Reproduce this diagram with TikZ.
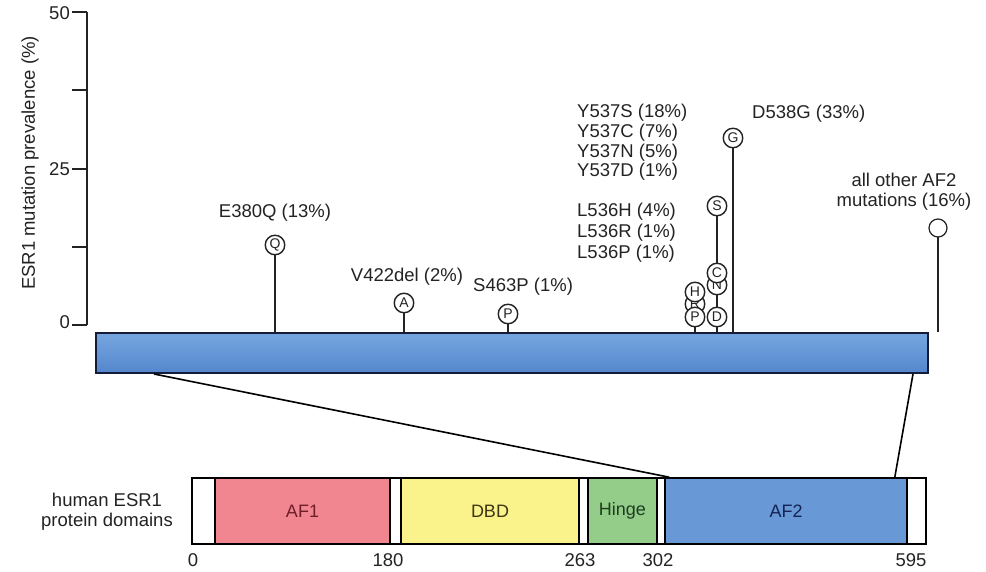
\documentclass[tikz,border=0pt]{standalone}
\usepackage{fontspec}
\setmainfont{Liberation Sans}
\usetikzlibrary{calc}
\pgfdeclarelayer{bg}
\pgfsetlayers{bg,main}
\definecolor{ink}{RGB}{35,35,35}
\definecolor{bartop}{RGB}{118,166,224}
\definecolor{barbot}{RGB}{84,134,204}
\definecolor{barline}{RGB}{20,28,55}
\definecolor{af1c}{RGB}{242,134,144}
\definecolor{dbdc}{RGB}{250,243,140}
\definecolor{hingec}{RGB}{148,205,138}
\definecolor{af2c}{RGB}{104,152,214}
\begin{document}
\begin{tikzpicture}[x=1pt,y=-1pt,
  lbl/.style={font=\fontsize{18.5}{20}\selectfont, inner sep=0pt, text=ink},
  mut/.style={circle, draw=ink, fill=white, line width=1.4pt, minimum size=19.5pt, inner sep=0pt, font=\fontsize{14}{14}\selectfont, text=ink},
  openmut/.style={circle, draw=ink, fill=white, line width=1.2pt, minimum size=18pt, inner sep=0pt},
  stem/.style={draw=ink, line width=1.3pt},
  dom/.style={draw=black, line width=1.6pt, minimum height=66pt, inner sep=0pt, font=\fontsize{18}{20}\selectfont},
  zoomline/.style={draw=black, line width=1.6pt},
  axisline/.style={draw=ink, line width=2.4pt},
  tickline/.style={draw=ink, line width=1.5pt}
]
\useasboundingbox (0,0) rectangle (986,571);
\begin{pgfonlayer}{bg}
\fill[white] (0,0) rectangle (986,571);
\end{pgfonlayer}

% y axis
\coordinate (ytop) at (87,12);
\coordinate (ybot) at (87,325);
\draw[axisline] (ytop) -- (ybot);
\coordinate (t50) at (72,12);
\coordinate (t375) at (72,90);
\coordinate (t25) at (72,169);
\coordinate (t125) at (72,247);
\coordinate (t0) at (72,325);
\draw[tickline] (t50) -- (ytop);
\draw[tickline] (t375) -- (t375 -| ytop);
\draw[tickline] (t25) -- (t25 -| ytop);
\draw[tickline] (t125) -- (t125 -| ytop);
\draw[tickline] (t0) -- (ybot);
\node[lbl, anchor=base east] (l50) at (70,19) {50};
\node[lbl, anchor=base east] (l25) at (70,175.5) {25};
\node[lbl, anchor=base east] (l0) at (70,328.5) {0};
\node[lbl, rotate=90] (ylab) at (30,163) {ESR1 mutation prevalence (\%)};

% main bar
\node[draw=barline, line width=2pt, top color=bartop, bottom color=barbot, minimum width=832pt, minimum height=40pt, inner sep=0pt] (bar) at (512,353) {};

% mutation circles
\node[mut] (q) at (275,245) {Q};
\node[mut] (a) at (404,303) {A};
\node[mut] (p1) at (508,314) {P};
\node[mut] (lr) at (695,304) {R};
\node[mut] (lh) at (695,292) {H};
\node[mut] (lp) at (695,317) {P};
\node[mut] (ys) at (717,206) {S};
\node[mut] (yn) at (717,285) {N};
\node[mut] (yc) at (717,273) {C};
\node[mut] (yd) at (717,317) {D};
\node[mut] (g) at (733,138) {G};
\node[openmut] (o) at (938,228) {};

\begin{pgfonlayer}{bg}
\draw[stem] (q.center) -- (q |- bar.north);
\draw[stem] (a.center) -- (a |- bar.north);
\draw[stem] (p1.center) -- (p1 |- bar.north);
\draw[stem] (lh.center) -- (lh |- bar.north);
\draw[stem] (ys.center) -- (ys |- bar.north);
\draw[stem] (g.center) -- (g |- bar.north);
\draw[stem] (o.center) -- (o |- bar.north);
\end{pgfonlayer}

% labels
\node[lbl, anchor=base] (le) at (275,217.5) {E380Q (13\%)};
\node[lbl, anchor=base] (lv) at (407,281.5) {V422del (2\%)};
\node[lbl, anchor=base west] (ls) at (473,291.5) {S463P (1\%)};
\node[lbl, anchor=base west] (y1) at (577,117.5) {Y537S (18\%)};
\node[lbl, anchor=base west] (y2) at (577,137.5) {Y537C (7\%)};
\node[lbl, anchor=base west] (y3) at (577,157) {Y537N (5\%)};
\node[lbl, anchor=base west] (y4) at (577,176) {Y537D (1\%)};
\node[lbl, anchor=base west] (m1) at (577,216.5) {L536H (4\%)};
\node[lbl, anchor=base west] (m2) at (577,237.5) {L536R (1\%)};
\node[lbl, anchor=base west] (m3) at (577,258) {L536P (1\%)};
\node[lbl, anchor=base west] (ld) at (752,118) {D538G (33\%)};
\node[lbl, anchor=base] (lo1) at (904,186.5) {all other AF2};
\node[lbl, anchor=base] (lo2) at (904,206.5) {mutations (16\%)};

% domain bar
\node[dom, fill=white, minimum width=734pt] (outer) at (559,511) {};
\node[dom, fill=af1c, minimum width=175pt, text={rgb,255:red,110;green,30;blue,40}] (af1) at (302.5,511) {AF1};
\node[dom, fill=dbdc, minimum width=178pt, text={rgb,255:red,60;green,55;blue,20}] (dbd) at (490,511) {DBD};
\node[dom, fill=hingec, minimum width=69pt, text={rgb,255:red,30;green,60;blue,30}] (hinge) at (622.5,511) {Hinge};
\node[dom, fill=af2c, minimum width=242pt, text={rgb,255:red,20;green,35;blue,85}] (af2) at (786,511) {AF2};

\node[lbl, align=center] (hum) at (107,512) {human ESR1\\protein domains};

\node[lbl, anchor=base] (p0) at (193,566) {0};
\node[lbl, anchor=base] (p180) at (388,566) {180};
\node[lbl, anchor=base] (p263) at (580,566) {263};
\node[lbl, anchor=base] (p302) at (658,566) {302};
\node[lbl, anchor=base] (p595) at (911,566) {595};

% zoom lines
\draw[zoomline] ($(bar.south west)+(59,0)$) -- ($(af2.north west)+(5,0)$);
\draw[zoomline] ($(bar.south east)+(-16,0)$) -- ($(af2.north east)+(-13,0)$);
\end{tikzpicture}
\end{document}
